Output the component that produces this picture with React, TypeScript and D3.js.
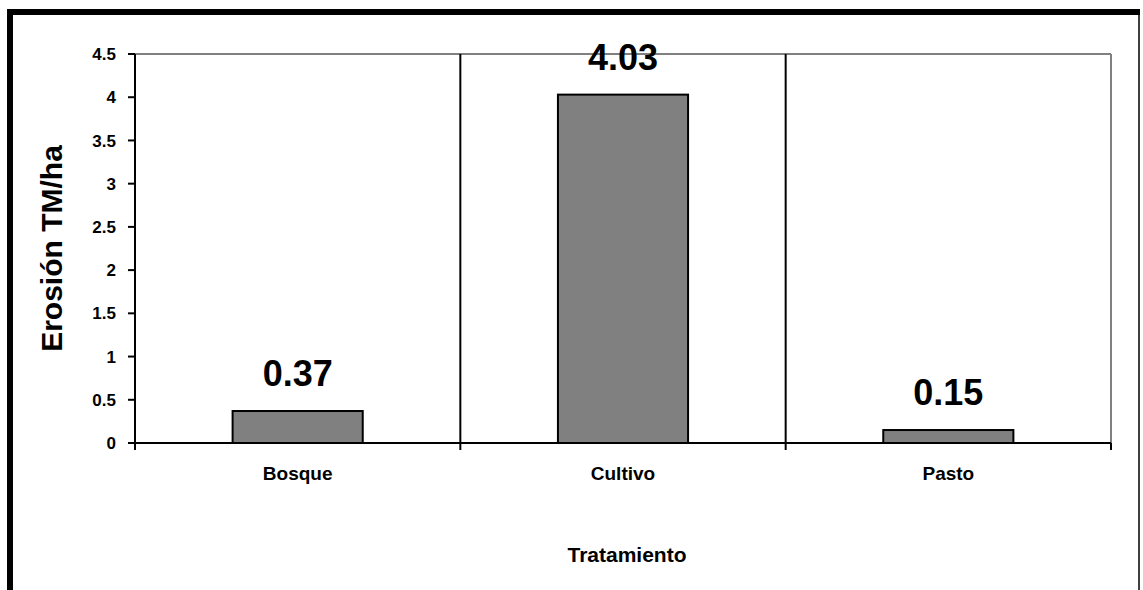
import React from "react";
import * as d3 from "d3";

// Erosion (TM/ha) per land-use treatment
const categories: string[] = ["Bosque", "Cultivo", "Pasto"];
const erosion: number[] = [0.37, 4.03, 0.15];
const yTicks: number[] = [0, 0.5, 1, 1.5, 2, 2.5, 3, 3.5, 4, 4.5];
const yTitle = "Erosión TM/ha";
const xTitle = "Tratamiento";

const W = 1143;
const H = 590;
const plot = { left: 135, right: 1111, top: 54, bottom: 443 };
const FONT = "'Liberation Sans', Arial, Helvetica, sans-serif";

export default function App() {
  const y = d3.scaleLinear().domain([0, 4.5]).range([plot.bottom, plot.top]);
  const x = d3
    .scaleBand<string>()
    .domain(categories)
    .range([plot.left, plot.right])
    .paddingInner(0.6)
    .paddingOuter(0.3);
  const step = x.step();
  const boundaries = d3.range(categories.length + 1).map((i) => plot.left + i * step);

  return (
    <svg
      width={W}
      height={H}
      style={{ position: "absolute", left: 0, top: 0, background: "#fff" }}
      fontFamily={FONT}
    >
      {/* chart frame */}
      <line x1={10} x2={10} y1={9} y2={H} stroke="#000" strokeWidth={6} />
      <line x1={7} x2={1140} y1={12} y2={12} stroke="#000" strokeWidth={6} />
      <line x1={1139} x2={1139} y1={9} y2={H} stroke="#000" strokeWidth={1.5} />

      {/* plot area border (top, right) */}
      <line x1={plot.left} x2={plot.right} y1={plot.top} y2={plot.top} stroke="#808080" strokeWidth={2} />
      <line x1={plot.right} x2={plot.right} y1={plot.top} y2={plot.bottom} stroke="#808080" strokeWidth={2} />

      {/* vertical gridlines between categories */}
      {boundaries.slice(1, -1).map((bx, i) => (
        <line key={`g${i}`} x1={bx} x2={bx} y1={plot.top} y2={plot.bottom} stroke="#000" strokeWidth={2} />
      ))}

      {/* bars */}
      {categories.map((c, i) => (
        <rect
          key={c}
          x={x(c)}
          y={y(erosion[i])}
          width={x.bandwidth()}
          height={y(0) - y(erosion[i])}
          fill="#808080"
          stroke="#000"
          strokeWidth={2}
        />
      ))}

      {/* y axis */}
      <line x1={plot.left} x2={plot.left} y1={plot.top} y2={plot.bottom + 7} stroke="#000" strokeWidth={2} />
      {yTicks.map((t) => (
        <g key={`y${t}`}>
          <line x1={plot.left - 7} x2={plot.left} y1={y(t)} y2={y(t)} stroke="#000" strokeWidth={2} />
          <text
            x={116}
            y={y(t)}
            dy="0.36em"
            textAnchor="end"
            fontSize={17}
            fontWeight="bold"
            fill="#000"
          >
            {String(t)}
          </text>
        </g>
      ))}

      {/* x axis */}
      <line x1={plot.left} x2={plot.right} y1={plot.bottom} y2={plot.bottom} stroke="#000" strokeWidth={2} />
      {boundaries.map((bx, i) => (
        <line key={`xt${i}`} x1={bx} x2={bx} y1={plot.bottom} y2={plot.bottom + 7} stroke="#000" strokeWidth={2} />
      ))}
      {categories.map((c) => (
        <text
          key={`xl${c}`}
          x={(x(c) as number) + x.bandwidth() / 2}
          y={480}
          textAnchor="middle"
          fontSize={19}
          fontWeight="bold"
          fill="#000"
        >
          {c}
        </text>
      ))}

      {/* value labels */}
      {categories.map((c, i) => (
        <text
          key={`v${c}`}
          x={(x(c) as number) + x.bandwidth() / 2}
          y={y(erosion[i]) - 25}
          textAnchor="middle"
          fontSize={36}
          fontWeight="bold"
          fill="#000"
        >
          {erosion[i].toFixed(2)}
        </text>
      ))}

      {/* axis titles */}
      <text
        x={(plot.left + plot.right) / 2 + 4}
        y={562}
        textAnchor="middle"
        fontSize={21}
        fontWeight="bold"
        fill="#000"
      >
        {xTitle}
      </text>
      <text
        transform={`translate(62, ${(plot.top + plot.bottom) / 2}) rotate(-90)`}
        textAnchor="middle"
        fontSize={30}
        fontWeight="bold"
        fill="#000"
      >
        {yTitle}
      </text>
    </svg>
  );
}
